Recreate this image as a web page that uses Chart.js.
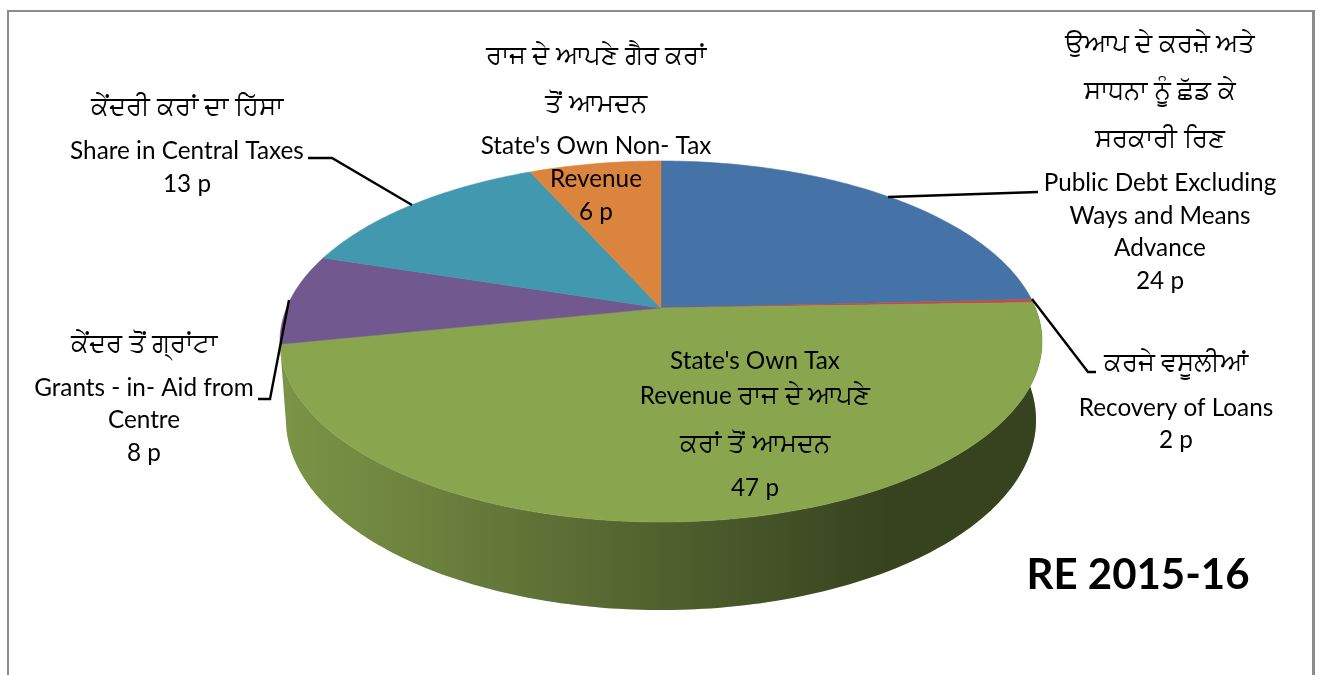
<!DOCTYPE html>
<html>
<head>
<meta charset="utf-8">
<title>RE 2015-16</title>
<script src="https://cdn.jsdelivr.net/npm/chart.js@4"></script>
<style>
  html, body { margin: 0; padding: 0; background: #fff; }
  canvas { display: block; }
</style>
</head>
<body>
<canvas id="myChart" width="1319" height="675"></canvas>
<script>
// what the pie is about
const categories = [
    'Public Debt Excluding Ways and Means Advance',
    'Recovery of Loans',
    "State's Own Tax Revenue",
    'Grants - in- Aid from Centre',
    'Share in Central Taxes',
    "State's Own Non- Tax Revenue"
];
// paise as printed on the labels
const printedPaise = [24, 2, 47, 8, 13, 6];
// slice sizes as they are really drawn in the picture (loans is only a sliver there)
const sliceShares = [24.2, 0.3, 47.3, 8.1, 13.4, 6.7];
const sliceColors = ['#4572a7', '#b9504c', '#89a54e', '#71588f', '#4198af', '#db843d'];

const chartTitle = 'RE 2015-16';

// label text, one entry per line. {p} is replaced by the printed value
const labelLines = [
    ['ਉਆਪ ਦੇ ਕਰਜ਼ੇ ਅਤੇ', 'ਸਾਧਨਾ ਨੂੰ ਛੱਡ ਕੇ', 'ਸਰਕਾਰੀ ਰਿਣ', 'Public Debt Excluding', 'Ways and Means', 'Advance', '{p} p'],
    ['ਕਰਜੇ ਵਸੂਲੀਆਂ', 'Recovery of Loans', '{p} p'],
    ["State's Own Tax", 'Revenue ਰਾਜ ਦੇ ਆਪਣੇ', 'ਕਰਾਂ ਤੋਂ ਆਮਦਨ', '{p} p'],
    ['ਕੇਂਦਰ ਤੋਂ ਗ੍ਰਾਂਟਾ', 'Grants - in- Aid from', 'Centre', '{p} p'],
    ['ਕੇਂਦਰੀ ਕਰਾਂ ਦਾ ਹਿੱਸਾ', 'Share in Central Taxes', '{p} p'],
    ['ਰਾਜ ਦੇ ਆਪਣੇ ਗੈਰ ਕਰਾਂ', 'ਤੋਂ ਆਮਦਨ', "State's Own Non- Tax", 'Revenue', '{p} p']
];

// layout of the labels, same order as above
const labelCenters = [1160, 1176, 755, 144, 187, 596];
const labelRows = [
    [43, 90, 138, 182, 215, 247, 280],
    [362, 407, 439],
    [360, 395, 443, 487],
    [343, 387, 419, 452],
    [106, 150, 183],
    [55, 103, 145, 178, 211]
];
const leaders = [
    [[888, 197], [1038, 192]],
    [[1032, 299], [1088, 372], [1096, 372]],
    [],
    [[258, 399], [270, 399], [289, 300]],
    [[308, 158], [332, 158], [412, 205]],
    []
];

// the tilted disc: apex of the slices, then the perspective
const apex = { x: 661, y: 308 };
const topFace = { a: 374.4, b: 174.3, k: 0.1856 };
const bottomFace = { a: 368.5, b: 183.5, k: 0.1856, dy: 76.7 };

const LATIN_SIZE = 24.3;
const GURMUKHI_SIZE = 26;
const FONT = 'Lato, "Noto Sans", "DejaVu Sans", sans-serif';

// angle from chart.js (0 = 3 o'clock) to a point on the rim
function rim(angle, f) {
    const u = Math.cos(angle);
    const v = Math.sin(angle);
    const w = 1 - f.k * v;
    return { x: apex.x + f.a * u / w, y: apex.y + (f.dy || 0) + f.b * v / w };
}

function sweep(el) {
    const pts = [];
    const n = Math.max(2, Math.ceil((el.endAngle - el.startAngle) * 60));
    for (let i = 0; i <= n; i++) {
        pts.push(el.startAngle + (el.endAngle - el.startAngle) * i / n);
    }
    return pts;
}

// one line can mix scripts, the Gurmukhi runs are set a bit larger
function drawLine(ctx, text, cx, y) {
    const runs = text.match(/[\u0A00-\u0A7F][\u0A00-\u0A7F ]*|[^\u0A00-\u0A7F]+/g);
    const fonts = runs.map((r) => (/[\u0A00-\u0A7F]/.test(r) ? GURMUKHI_SIZE : LATIN_SIZE) + 'px ' + FONT);
    const widths = runs.map((r, i) => {
        ctx.font = fonts[i];
        return ctx.measureText(r).width;
    });
    let x = cx - widths.reduce((a, b) => a + b, 0) / 2;
    ctx.textAlign = 'left';
    runs.forEach((r, i) => {
        ctx.font = fonts[i];
        ctx.fillText(r, x, y);
        x += widths[i];
    });
}

const pie3d = {
    id: 'pie3d',
    beforeDatasetDraw(chart) {
        const ctx = chart.ctx;
        const arcs = chart.getDatasetMeta(0).data;

        // wall first, only for slices that face the viewer
        arcs.forEach((el) => {
            if (Math.sin((el.startAngle + el.endAngle) / 2) < 0) return;
            const angles = sweep(el);
            ctx.beginPath();
            angles.forEach((t) => {
                const p = rim(t, topFace);
                ctx.lineTo(p.x, p.y);
            });
            angles.slice().reverse().forEach((t) => {
                const p = rim(t, bottomFace);
                ctx.lineTo(p.x, p.y);
            });
            ctx.closePath();
            ctx.fillStyle = el.options.backgroundColor;
            ctx.fill();
            const shade = ctx.createLinearGradient(280, 0, 1040, 0);
            shade.addColorStop(0, 'rgba(0,0,0,0.10)');
            shade.addColorStop(0.22, 'rgba(0,0,0,0.23)');
            shade.addColorStop(0.5, 'rgba(0,0,0,0.41)');
            shade.addColorStop(0.8, 'rgba(0,0,0,0.60)');
            shade.addColorStop(1, 'rgba(0,0,0,0.60)');
            ctx.fillStyle = shade;
            ctx.fill();
        });

        // top face
        arcs.forEach((el) => {
            ctx.beginPath();
            ctx.moveTo(apex.x, apex.y);
            sweep(el).forEach((t) => {
                const p = rim(t, topFace);
                ctx.lineTo(p.x, p.y);
            });
            ctx.closePath();
            ctx.fillStyle = el.options.backgroundColor;
            ctx.strokeStyle = el.options.backgroundColor;
            ctx.lineWidth = 0.6;
            ctx.fill();
            ctx.stroke();
        });
        return false;
    },
    afterDraw(chart) {
        const ctx = chart.ctx;
        ctx.save();

        // frame, open at the bottom
        ctx.strokeStyle = '#8c8c8c';
        ctx.lineWidth = 2;
        ctx.beginPath();
        ctx.moveTo(8, 675);
        ctx.lineTo(8, 11);
        ctx.lineTo(1313, 11);
        ctx.stroke();
        ctx.lineWidth = 3;
        ctx.beginPath();
        ctx.moveTo(1313.5, 10);
        ctx.lineTo(1313.5, 675);
        ctx.stroke();

        // leader lines
        ctx.strokeStyle = '#000';
        ctx.lineWidth = 2.4;
        leaders.forEach((line) => {
            if (!line.length) return;
            ctx.beginPath();
            line.forEach((p) => ctx.lineTo(p[0], p[1]));
            ctx.stroke();
        });

        // labels
        ctx.fillStyle = '#000';
        ctx.textBaseline = 'middle';
        labelLines.forEach((lines, i) => {
            lines.forEach((txt, j) => {
                drawLine(ctx, txt.replace('{p}', printedPaise[i]), labelCenters[i], labelRows[i][j] + 1);
            });
        });

        ctx.textAlign = 'center';
        ctx.font = 'bold 42px ' + FONT;
        ctx.fillText(chartTitle, 1138, 575);
        ctx.restore();
    }
};

const data = {
    labels: categories,
    datasets: [{
        data: sliceShares,
        backgroundColor: sliceColors,
        borderWidth: 0
    }]
};

const config = {
    type: 'pie',
    data: data,
    options: {
        responsive: false,
        animation: false,
        plugins: {
            legend: { display: false },
            tooltip: { enabled: false }
        }
    },
    plugins: [pie3d]
};

const myChart = new Chart(document.getElementById('myChart'), config);
</script>
</body>
</html>
